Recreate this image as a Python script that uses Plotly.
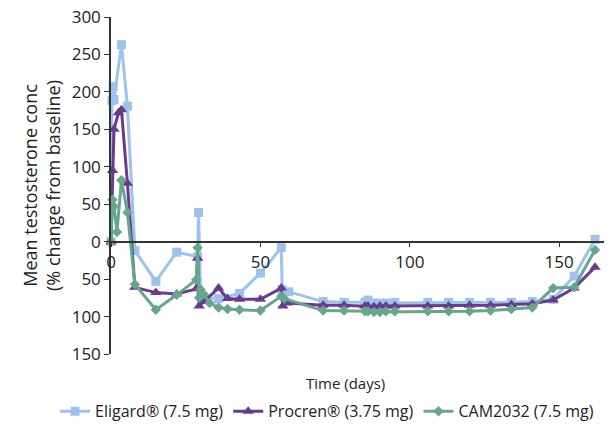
import plotly.graph_objects as go

# Data (days, % change from baseline; negative = decrease)
eligard_days = [0, 0.3, 0.7, 1, 3.5, 5.5, 8, 15, 22, 29, 29.3, 30, 31, 36, 43, 50, 57, 57.3, 59.5,
                71, 78, 85, 86, 88, 90, 92, 95, 106, 113, 120, 127, 134, 141, 148, 155, 162]
eligard_vals = [0, 188, 207, 190, 263, 181, -12, -53, -14, -20, 39, -72, -75, -76, -69, -42, -8, -64, -67,
                -80, -81, -81, -78, -82, -82, -82, -81, -81, -81, -81, -81, -81, -80, -77, -46, 3]

procren_days = [0, 0.5, 1, 2.5, 3.5, 5.5, 8, 15, 22, 28.5, 29, 29.5, 31, 36, 39, 43, 50, 57, 57.5, 59,
                71, 78, 85, 86, 88, 90, 92, 95, 106, 113, 120, 127, 134, 141, 148, 155, 162]
procren_vals = [0, 95, 150, 172, 176, 78, -61, -68, -70, -63, -22, -86, -80, -62, -76, -77, -77, -62, -86, -82,
                -85, -85, -86, -86, -87, -86, -86, -86, -86, -86, -85, -85, -84, -83, -78, -62, -34]

cam_days = [0, 0.5, 1, 2, 3.5, 5.5, 8, 15, 22, 28.5, 29, 29.5, 30, 31, 33, 36, 39, 43, 50, 57, 58,
            71, 78, 85, 86, 88, 90, 92, 95, 106, 113, 120, 127, 134, 141, 148, 155, 162]
cam_vals = [0, 56, 47, 13, 82, 39, -57, -91, -71, -51, -8, -75, -64, -70, -82, -88, -90, -91, -92, -73, -76,
            -92, -92, -93, -93, -94, -94, -93, -93, -93, -93, -93, -92, -90, -88, -62, -61, -11]

y_tickvals = [-150, -100, -50, 0, 50, 100, 150, 200, 250, 300]
y_ticktext = ["150", "100", "50", "0", "50", "100", "150", "200", "250", "300"]
x_tickvals = [0, 50, 100, 150]

series = [
    ("Eligard® (7.5 mg)", eligard_days, eligard_vals, "#9DC3EA", "square", 9),
    ("Procren® (3.75 mg)", procren_days, procren_vals, "#6A3A8C", "triangle-up", 10),
    ("CAM2032 (7.5 mg)", cam_days, cam_vals, "#66A68E", "diamond", 8),
]

fig = go.Figure()
for name, xs, ys, col, sym, sz in series:
    fig.add_trace(go.Scatter(
        x=xs, y=ys, name=name, mode="lines+markers",
        line=dict(color=col, width=3),
        marker=dict(color=col, symbol=sym, size=sz),
        cliponaxis=False,
    ))

W = 613
font = "Open Sans, Noto Sans, sans-serif"
fig.update_layout(
    width=W, height=426,
    margin=dict(l=0, r=0, t=17, b=72, autoexpand=False),
    plot_bgcolor="white", paper_bgcolor="white",
    font=dict(family=font, size=17, color="#222222"),
    showlegend=True,
    legend=dict(orientation="h", x=327 / W, xanchor="center", y=-0.17, yanchor="middle",
                font=dict(size=16, color="#222222"), tracegroupgap=0),
    xaxis=dict(domain=[111 / W, 604 / W], range=[0, 165], tickvals=x_tickvals, ticks="outside",
               ticklen=5, tickcolor="#333", showline=True, linecolor="#333", linewidth=1.5,
               showgrid=False, zeroline=False, anchor="free", position=1/3,
               tickfont=dict(size=17), automargin=False),
    yaxis=dict(range=[-150, 300], tickvals=y_tickvals, ticktext=y_ticktext, ticks="outside",
               ticklen=5, tickcolor="#333", showline=True, linecolor="#333", linewidth=1.5,
               showgrid=False, zeroline=False, tickfont=dict(size=17), automargin=False,
               title=dict(text="Mean testosterone conc<br>(% change from baseline)",
                          font=dict(size=18), standoff=6)),
    annotations=[dict(text="Time (days)", xref="paper", yref="paper", x=345 / W, y=-0.087,
                      xanchor="center", yanchor="middle", showarrow=False,
                      font=dict(size=15, color="#222222"))],
)

fig.write_html("out.html")
